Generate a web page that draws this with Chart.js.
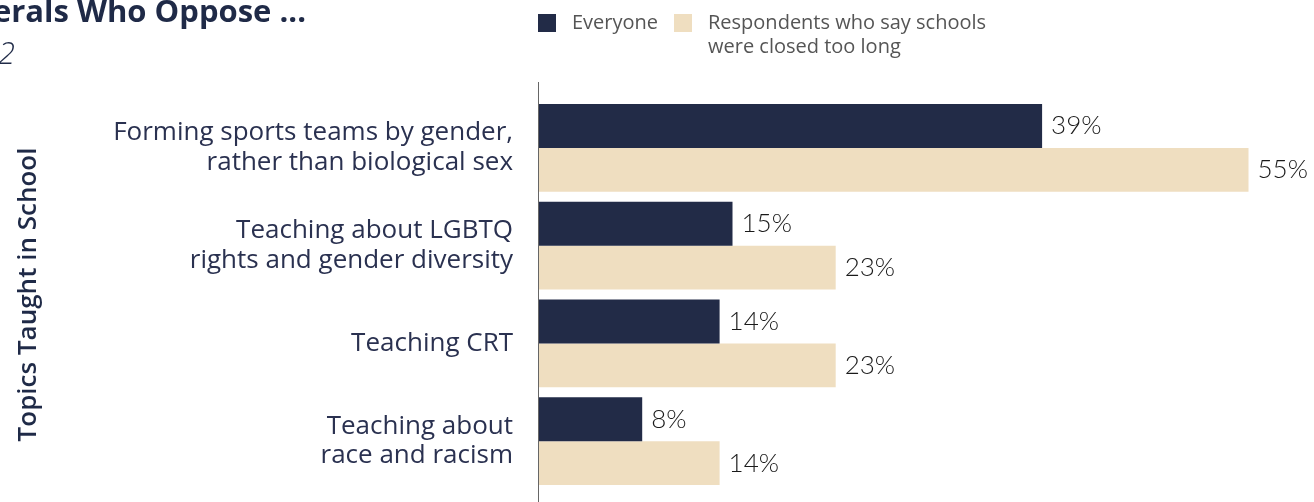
<!DOCTYPE html>
<html>
<head>
<meta charset="utf-8">
<script src="https://cdn.jsdelivr.net/npm/chart.js@4"></script>
<style>
  html, body { margin:0; padding:0; background:#fff; }
  #wrap { position:relative; width:1314px; height:502px; overflow:hidden; font-family: "Open Sans", "Noto Sans", sans-serif; }
  canvas { position:absolute; left:0; top:0; }
  .title { position:absolute; right:calc(1314px - 306px); top:-11px; font-size:31px; font-weight:700; color:#1f2a47; white-space:nowrap; }
  .sub { position:absolute; right:calc(1314px - 15px); top:31px; font-size:31px; font-style:italic; font-weight:300; color:#1f2a47; white-space:nowrap; }
  .leg { position:absolute; font-size:20px; color:#555; line-height:24px; }
  .sw { position:absolute; width:18px; height:18px; }
</style>
</head>
<body>
<div id="wrap">
  <canvas id="c" width="1314" height="502"></canvas>
  <div class="title">Liberals Who Oppose ...</div>
  <div class="sub">2022</div>
  <div class="sw" style="left:538px;top:14px;background:#222b47"></div>
  <div class="leg" style="left:572px;top:10px">Everyone</div>
  <div class="sw" style="left:674px;top:14px;background:#efdec0"></div>
  <div class="leg" style="left:708px;top:10px">Respondents who say schools<br>were closed too long</div>
</div>
<script>
const categories = [
  ["Forming sports teams by gender,", "rather than biological sex"],
  ["Teaching about LGBTQ", "rights and gender diversity"],
  ["Teaching CRT"],
  ["Teaching about", "race and racism"]
];
const seriesNames = ["Everyone", "Respondents who say schools were closed too long"];
const everyone = [39, 15, 14, 8];
const closedTooLong = [55, 23, 23, 14];
const axisTitle = "Topics Taught in School";

const labelPlugin = {
  id: 'valLabels',
  afterDatasetsDraw(chart) {
    const ctx = chart.ctx;
    ctx.save();
    ctx.font = '300 26px Lato, "Noto Sans", sans-serif';
    ctx.fillStyle = '#1a1a1a';
    ctx.textAlign = 'left';
    ctx.textBaseline = 'middle';
    chart.data.datasets.forEach((ds, i) => {
      const meta = chart.getDatasetMeta(i);
      meta.data.forEach((bar, j) => {
        ctx.fillText(ds.data[j] + '%', bar.x + 9, bar.y);
      });
    });
    ctx.restore();
  }
};
const axisLinePlugin = {
  id: 'axisLine',
  afterDraw(chart) {
    const ctx = chart.ctx;
    const x = chart.chartArea.left;
    ctx.save();
    ctx.strokeStyle = '#666';
    ctx.lineWidth = 1;
    ctx.beginPath();
    ctx.moveTo(x - 0.5, 82);
    ctx.lineTo(x - 0.5, 502);
    ctx.stroke();
    ctx.restore();
  }
};

new Chart(document.getElementById('c'), {
  type: 'bar',
  data: {
    labels: categories,
    datasets: [
      { label: seriesNames[0], data: everyone, backgroundColor: '#222b47', categoryPercentage: 0.9, barPercentage: 1.0 },
      { label: seriesNames[1], data: closedTooLong, backgroundColor: '#efdec0', categoryPercentage: 0.9, barPercentage: 1.0 }
    ]
  },
  options: {
    indexAxis: 'y',
    responsive: false,
    animation: false,
    layout: { padding: { top: 99, bottom: 12, right: 1, left: 0 } },
    plugins: { legend: { display: false }, tooltip: { enabled: false } },
    scales: {
      x: { display: false, min: 0, max: 60 },
      y: {
        grid: { display: false, drawTicks: false },
        border: { display: false },
        ticks: {
          color: '#2a3150',
          font: { family: '"Open Sans", "Noto Sans", sans-serif', size: 26, lineHeight: 1.15 },
          padding: 26
        },
        title: {
          display: true, text: axisTitle, color: '#1f2a47',
          font: { family: '"Open Sans", "Noto Sans", sans-serif', size: 26, weight: '600' },
          padding: { top: 13, bottom: 0 }
        },
        afterFit(scale) { scale.width = 539; scale.paddingTop = 0; scale.paddingBottom = 0; }
      }
    }
  },
  plugins: [labelPlugin, axisLinePlugin]
});
</script>
</body>
</html>
